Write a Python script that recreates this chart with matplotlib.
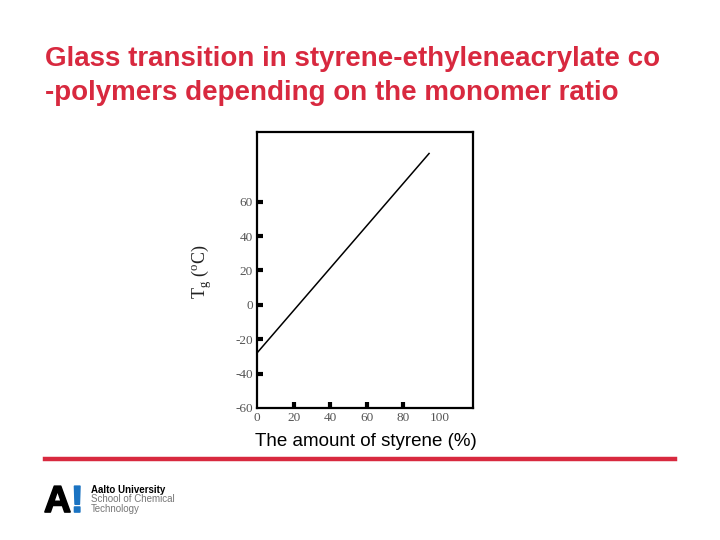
import matplotlib
matplotlib.use("Agg")
import matplotlib.pyplot as plt
import matplotlib.patheffects as pe

# Data
styrene_pct = [0, 94]
tg_celsius = [-28, 88]
xticks = [0, 20, 40, 60, 80, 100]
yticks = [-60, -40, -20, 0, 20, 40, 60]

title_lines = "Glass transition in styrene-ethyleneacrylate co\n-polymers depending on the monomer ratio"
xlabel = "The amount of styrene (%)"

RED = "#d8293f"

fig = plt.figure(figsize=(7.2, 5.4), dpi=100)
fig.patch.set_facecolor("white")

fig.text(45/720, 1 - 66/540, title_lines.split("\n")[0], color=RED, fontsize=20, fontweight="bold",
         family="Liberation Sans", va="baseline", ha="left")
fig.text(45/720, 1 - 100/540, title_lines.split("\n")[1], color=RED, fontsize=20, fontweight="bold",
         family="Liberation Sans", va="baseline", ha="left")

ax = fig.add_axes([257/720, 1 - 408/540, (473-257)/720, (408-132)/540])
ax.plot(styrene_pct, tg_celsius, color="black", lw=1.1)
ax.set_xlim(0, 118)
ax.set_ylim(-60, 100.5)
ax.set_xticks(xticks)
ax.set_yticks(yticks)
ax.set_xticklabels([str(v) for v in xticks])
ax.set_yticklabels([str(v) for v in yticks])
for s in ax.spines.values():
    s.set_linewidth(1.6)
ax.tick_params(direction="in", length=4, width=3, labelsize=9.5, labelcolor="#555555", pad=3)
for lab in ax.get_xticklabels() + ax.get_yticklabels():
    lab.set_family("Liberation Serif")
xt = ax.xaxis.get_major_ticks()
xt[0].tick1line.set_visible(False)
xt[-1].tick1line.set_visible(False)
yt = ax.yaxis.get_major_ticks()
yt[0].tick1line.set_visible(False)

fig.text(202/720, 1 - 272/540, r"T$_\mathregular{g}$ ($^\mathregular{o}$C)", rotation=90, family="Liberation Serif",
         fontsize=13, color="#222222", ha="center", va="center")

fig.text(366/720, 1 - 441/540, xlabel, family="Liberation Sans", fontsize=13.5,
         ha="center", va="center", color="black")

# red rule
fig.add_artist(plt.Line2D([45/720, 675/720], [1 - 459/540, 1 - 459/540], color=RED, lw=3.2))

# logo
stroke = [pe.withStroke(linewidth=1.2, foreground="black")]
fig.text(44/720, 1 - 512/540, "A", family="Liberation Sans", fontweight="bold", fontsize=27,
         color="black", ha="left", va="baseline", path_effects=stroke)
fig.text(71/720, 1 - 512/540, "!", family="Liberation Sans", fontweight="bold", fontsize=27,
         color="#1a73c2", ha="left", va="baseline",
         path_effects=[pe.withStroke(linewidth=1.2, foreground="#1a73c2")])
fig.text(91/720, 1 - 490/540, "Aalto University", family="Liberation Sans", fontweight="bold",
         fontsize=7, color="black", ha="left", va="center")
fig.text(91/720, 1 - 499.5/540, "School of Chemical", family="Liberation Sans",
         fontsize=7, color="#777777", ha="left", va="center")
fig.text(91/720, 1 - 509/540, "Technology", family="Liberation Sans",
         fontsize=7, color="#777777", ha="left", va="center")

fig.savefig("out.png", dpi=100, facecolor="white")
